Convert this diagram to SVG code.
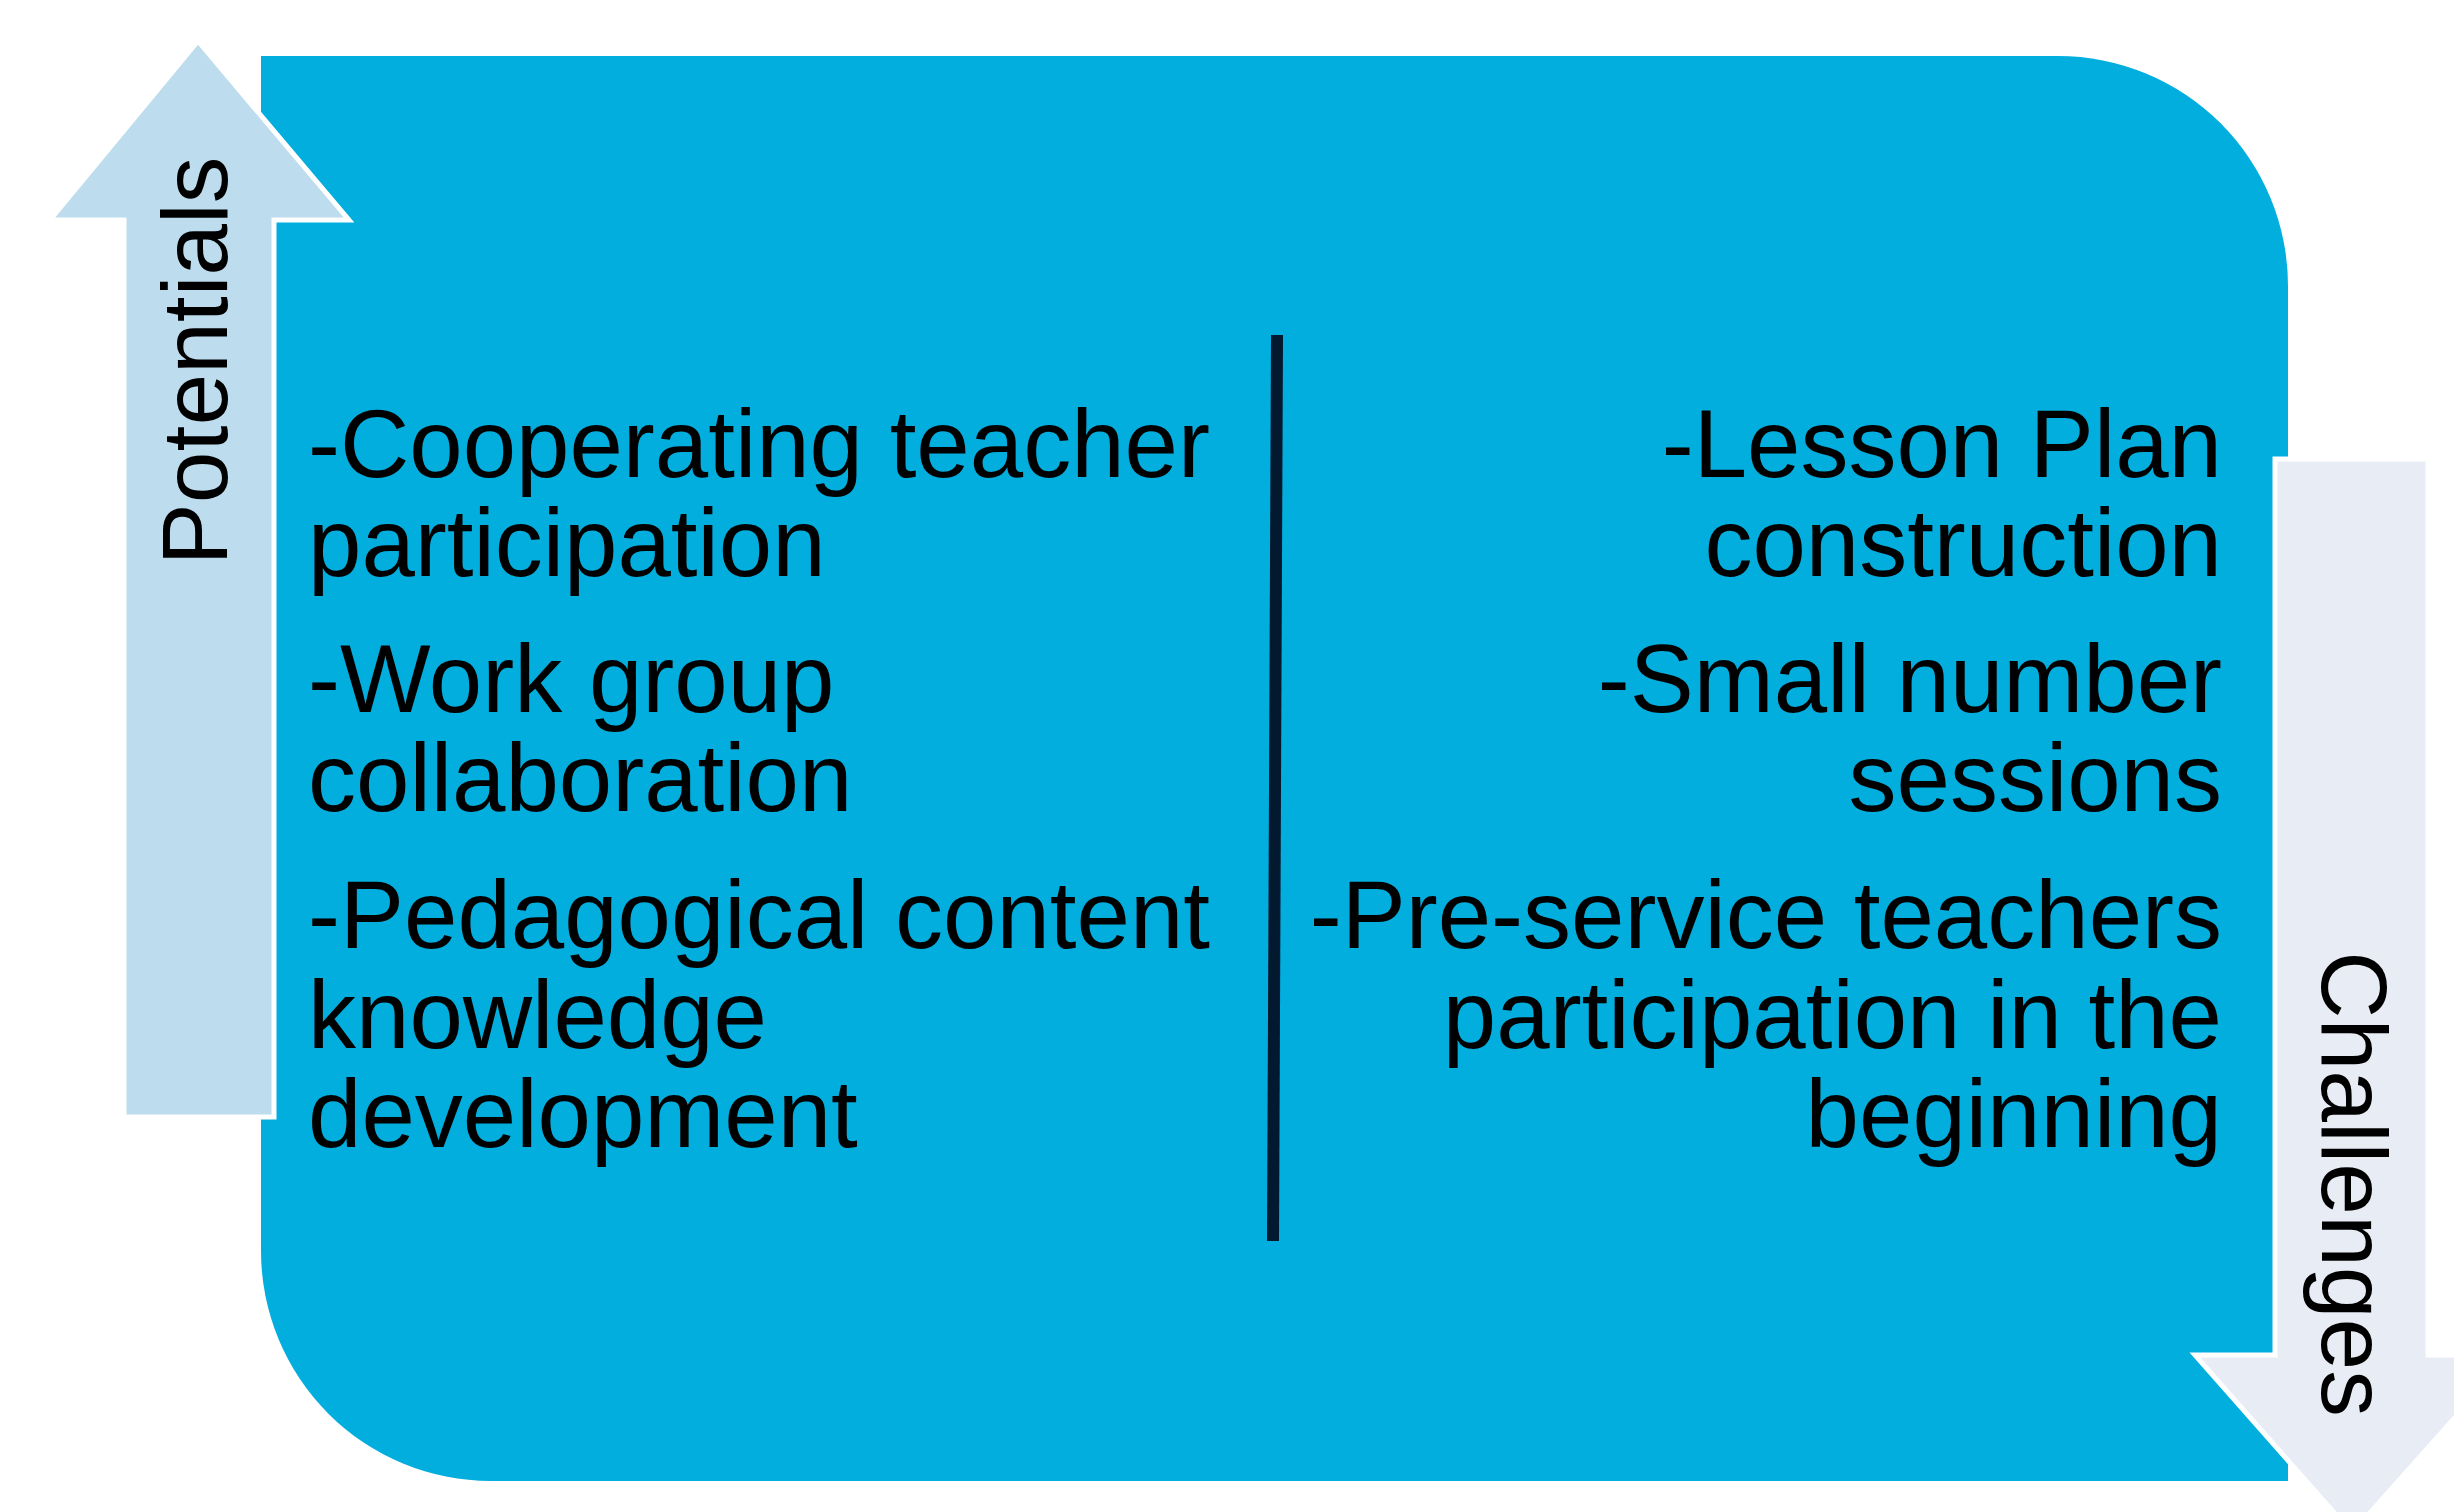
<svg xmlns="http://www.w3.org/2000/svg" width="2454" height="1512" viewBox="0 0 2454 1512">
<style>
.t{font-family:"Liberation Sans",Arial,sans-serif;font-size:96px;fill:#000}
.lbl{font-family:"Liberation Sans",Arial,sans-serif;font-size:93px;fill:#000}
.arrow{stroke:#fff;stroke-width:5;stroke-linejoin:miter}
</style>
<rect width="2454" height="1512" fill="#fff"/>
<g id="main">
<path d="M261,56 H2058 A230,230 0 0 1 2288,286 V1481 H491 A230,230 0 0 1 261,1251 Z" fill="#02AEDE"/>
</g>
<g id="potentials">
<polygon class="arrow" fill="#BDDCEE" points="198,41 349,220 274,220 274,1117 124,1117 124,220 50,220"/>
<text class="lbl" transform="translate(227,361) rotate(-90)" text-anchor="middle">Potentials</text>
</g>
<g id="challenges">
<polygon class="arrow" fill="#E8ECF4" points="2275,459 2428,459 2428,1355 2511,1355 2352,1533 2195,1355 2275,1355"/>
<text class="lbl" transform="translate(2322,1184) rotate(90)" text-anchor="middle">Challenges</text>
</g>
<g id="connectors">
<line x1="1277" y1="335" x2="1273" y2="1241" stroke="#03192F" stroke-width="12"/>
</g>
<g id="left-text">
<text class="t" x="308" y="477">-Cooperating teacher</text>
<text class="t" x="308" y="576">participation</text>
<text class="t" x="308" y="712">-Work group</text>
<text class="t" x="308" y="811">collaboration</text>
<text class="t" x="308" y="948">-Pedagogical content</text>
<text class="t" x="308" y="1048">knowledge</text>
<text class="t" x="308" y="1147">development</text>
</g>
<g id="right-text" text-anchor="end">
<text class="t" x="2222" y="477">-Lesson Plan</text>
<text class="t" x="2222" y="576">construction</text>
<text class="t" x="2222" y="712">-Small number</text>
<text class="t" x="2222" y="811">sessions</text>
<text class="t" x="2222" y="948">-Pre-service teachers</text>
<text class="t" x="2222" y="1048">participation in the</text>
<text class="t" x="2222" y="1147">beginning</text>
</g>
</svg>
